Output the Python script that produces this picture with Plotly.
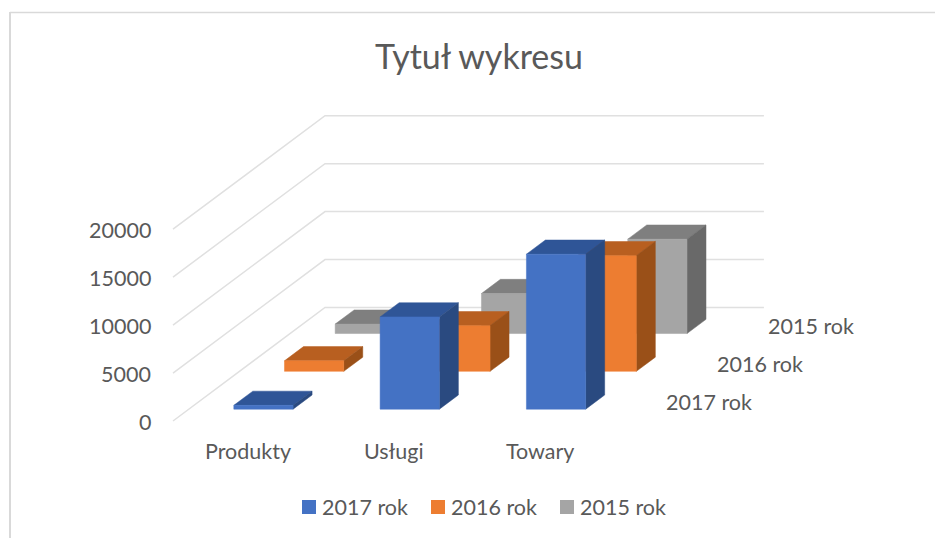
import plotly.graph_objects as go

title = "Tytuł wykresu"
categories = ["Produkty", "Usługi", "Towary"]
series_names = ["2017 rok", "2016 rok", "2015 rok"]
values_2017 = [400, 9620, 16160]
values_2016 = [1100, 4760, 12060]
values_2015 = [980, 4170, 9840]
value_ticks = [0, 5000, 10000, 15000, 20000]

front_colors = ["#4472C4", "#ED7D31", "#A5A5A5"]
top_colors = ["#2F5597", "#B85F20", "#7F7F7F"]
side_colors = ["#2A4A80", "#9A5018", "#696969"]
FONT = "Lato"
TXT = "#595959"

# Oblique projection of the chart's 3-D space on to the page
ORIGIN = (173.0, 421.0)
CAT_W = 146.3
SER_DX, SER_DY = 50.67, -37.83
PX_PER_UNIT = 191.8 / 20000
BAR_W, BAR_D = 0.405, 0.375
BAR_SHIFT = 0.01


def proj(c, s, v):
    return (ORIGIN[0] + c * CAT_W + s * SER_DX,
            ORIGIN[1] + s * SER_DY - v * PX_PER_UNIT)


def face(points, color, name):
    xy = [proj(*p) for p in points]
    xs = [p[0] for p in xy] + [xy[0][0]]
    ys = [p[1] for p in xy] + [xy[0][1]]
    return go.Scatter(x=xs, y=ys, mode="lines", fill="toself", fillcolor=color,
                      line=dict(color=color, width=0.5), hoverinfo="text",
                      text=name, showlegend=False)


fig = go.Figure()
n_c, n_s = len(categories), len(series_names)
gridcolor = "#E0E0E0"
for t in value_ticks:
    pts = [proj(0, 0, t), proj(0, n_s, t), proj(n_c, n_s, t)]
    fig.add_trace(go.Scatter(x=[p[0] for p in pts], y=[p[1] for p in pts], mode="lines",
                             line=dict(color=gridcolor, width=1.5), hoverinfo="skip",
                             showlegend=False))

all_values = [values_2017, values_2016, values_2015]
for s in reversed(range(n_s)):
    name = series_names[s]
    for c in range(n_c):
        v = all_values[s][c]
        c0 = c + (1 - BAR_W) / 2 + BAR_SHIFT
        c1 = c0 + BAR_W
        s0 = s + (1 - BAR_D) / 2
        s1 = s0 + BAR_D
        fig.add_trace(face([(c0, s0, v), (c0, s1, v), (c1, s1, v), (c1, s0, v)], top_colors[s], name))
        fig.add_trace(face([(c1, s0, 0), (c1, s1, 0), (c1, s1, v), (c1, s0, v)], side_colors[s], name))
        fig.add_trace(face([(c0, s0, 0), (c1, s0, 0), (c1, s0, v), (c0, s0, v)], front_colors[s], name))

ann = []
for t in value_ticks:
    x, y = proj(0, 0, t)
    ann.append(dict(x=x - 20, y=y + 0.5, text=str(t), xanchor="right", yanchor="middle"))
for c, cat in enumerate(categories):
    x, y = proj(c + 0.5, 0, 0)
    ann.append(dict(x=x + 1.5, y=y + 30, text=cat, xanchor="center", yanchor="middle"))
for s, name in enumerate(series_names):
    x, y = proj(n_c, s + 0.5, 0)
    ann.append(dict(x=x + 27, y=y, text=name, xanchor="left", yanchor="middle"))

# Legend row: swatch + label for each series
LEGEND_X, LEGEND_STEP, LEGEND_Y = 309, 129, 507
for s, name in enumerate(series_names):
    lx = LEGEND_X + s * LEGEND_STEP
    fig.add_trace(go.Scatter(x=[lx], y=[LEGEND_Y], mode="markers", hoverinfo="text", text=name,
                             marker=dict(symbol="square", size=14, color=front_colors[s]),
                             showlegend=False))
    ann.append(dict(x=lx + 11, y=LEGEND_Y, text=name, xanchor="left", yanchor="middle"))

for a in ann:
    a.update(xref="x", yref="y", showarrow=False, font=dict(family=FONT, size=21.5, color=TXT))

fig.update_layout(
    width=935, height=538, margin=dict(l=0, r=0, t=0, b=0),
    paper_bgcolor="white", plot_bgcolor="white", showlegend=False,
    title=dict(text=title, x=479 / 935, y=1 - 57 / 538, xanchor="center", yanchor="middle",
               font=dict(family=FONT, size=34, color=TXT)),
    xaxis=dict(range=[0, 935], visible=False, fixedrange=True),
    yaxis=dict(range=[538, 0], visible=False, fixedrange=True),
    annotations=ann,
    shapes=[
        dict(type="line", xref="x", yref="y", x0=10, x1=935, y0=12.5, y1=12.5,
             line=dict(color="#D9D9D9", width=1.5)),
        dict(type="line", xref="x", yref="y", x0=10, x1=10, y0=12, y1=538,
             line=dict(color="#D9D9D9", width=2)),
    ],
)
fig.write_html("out.html", config={"displayModeBar": False},
               post_script="document.body.style.margin='0';document.documentElement.style.overflow='hidden';")
